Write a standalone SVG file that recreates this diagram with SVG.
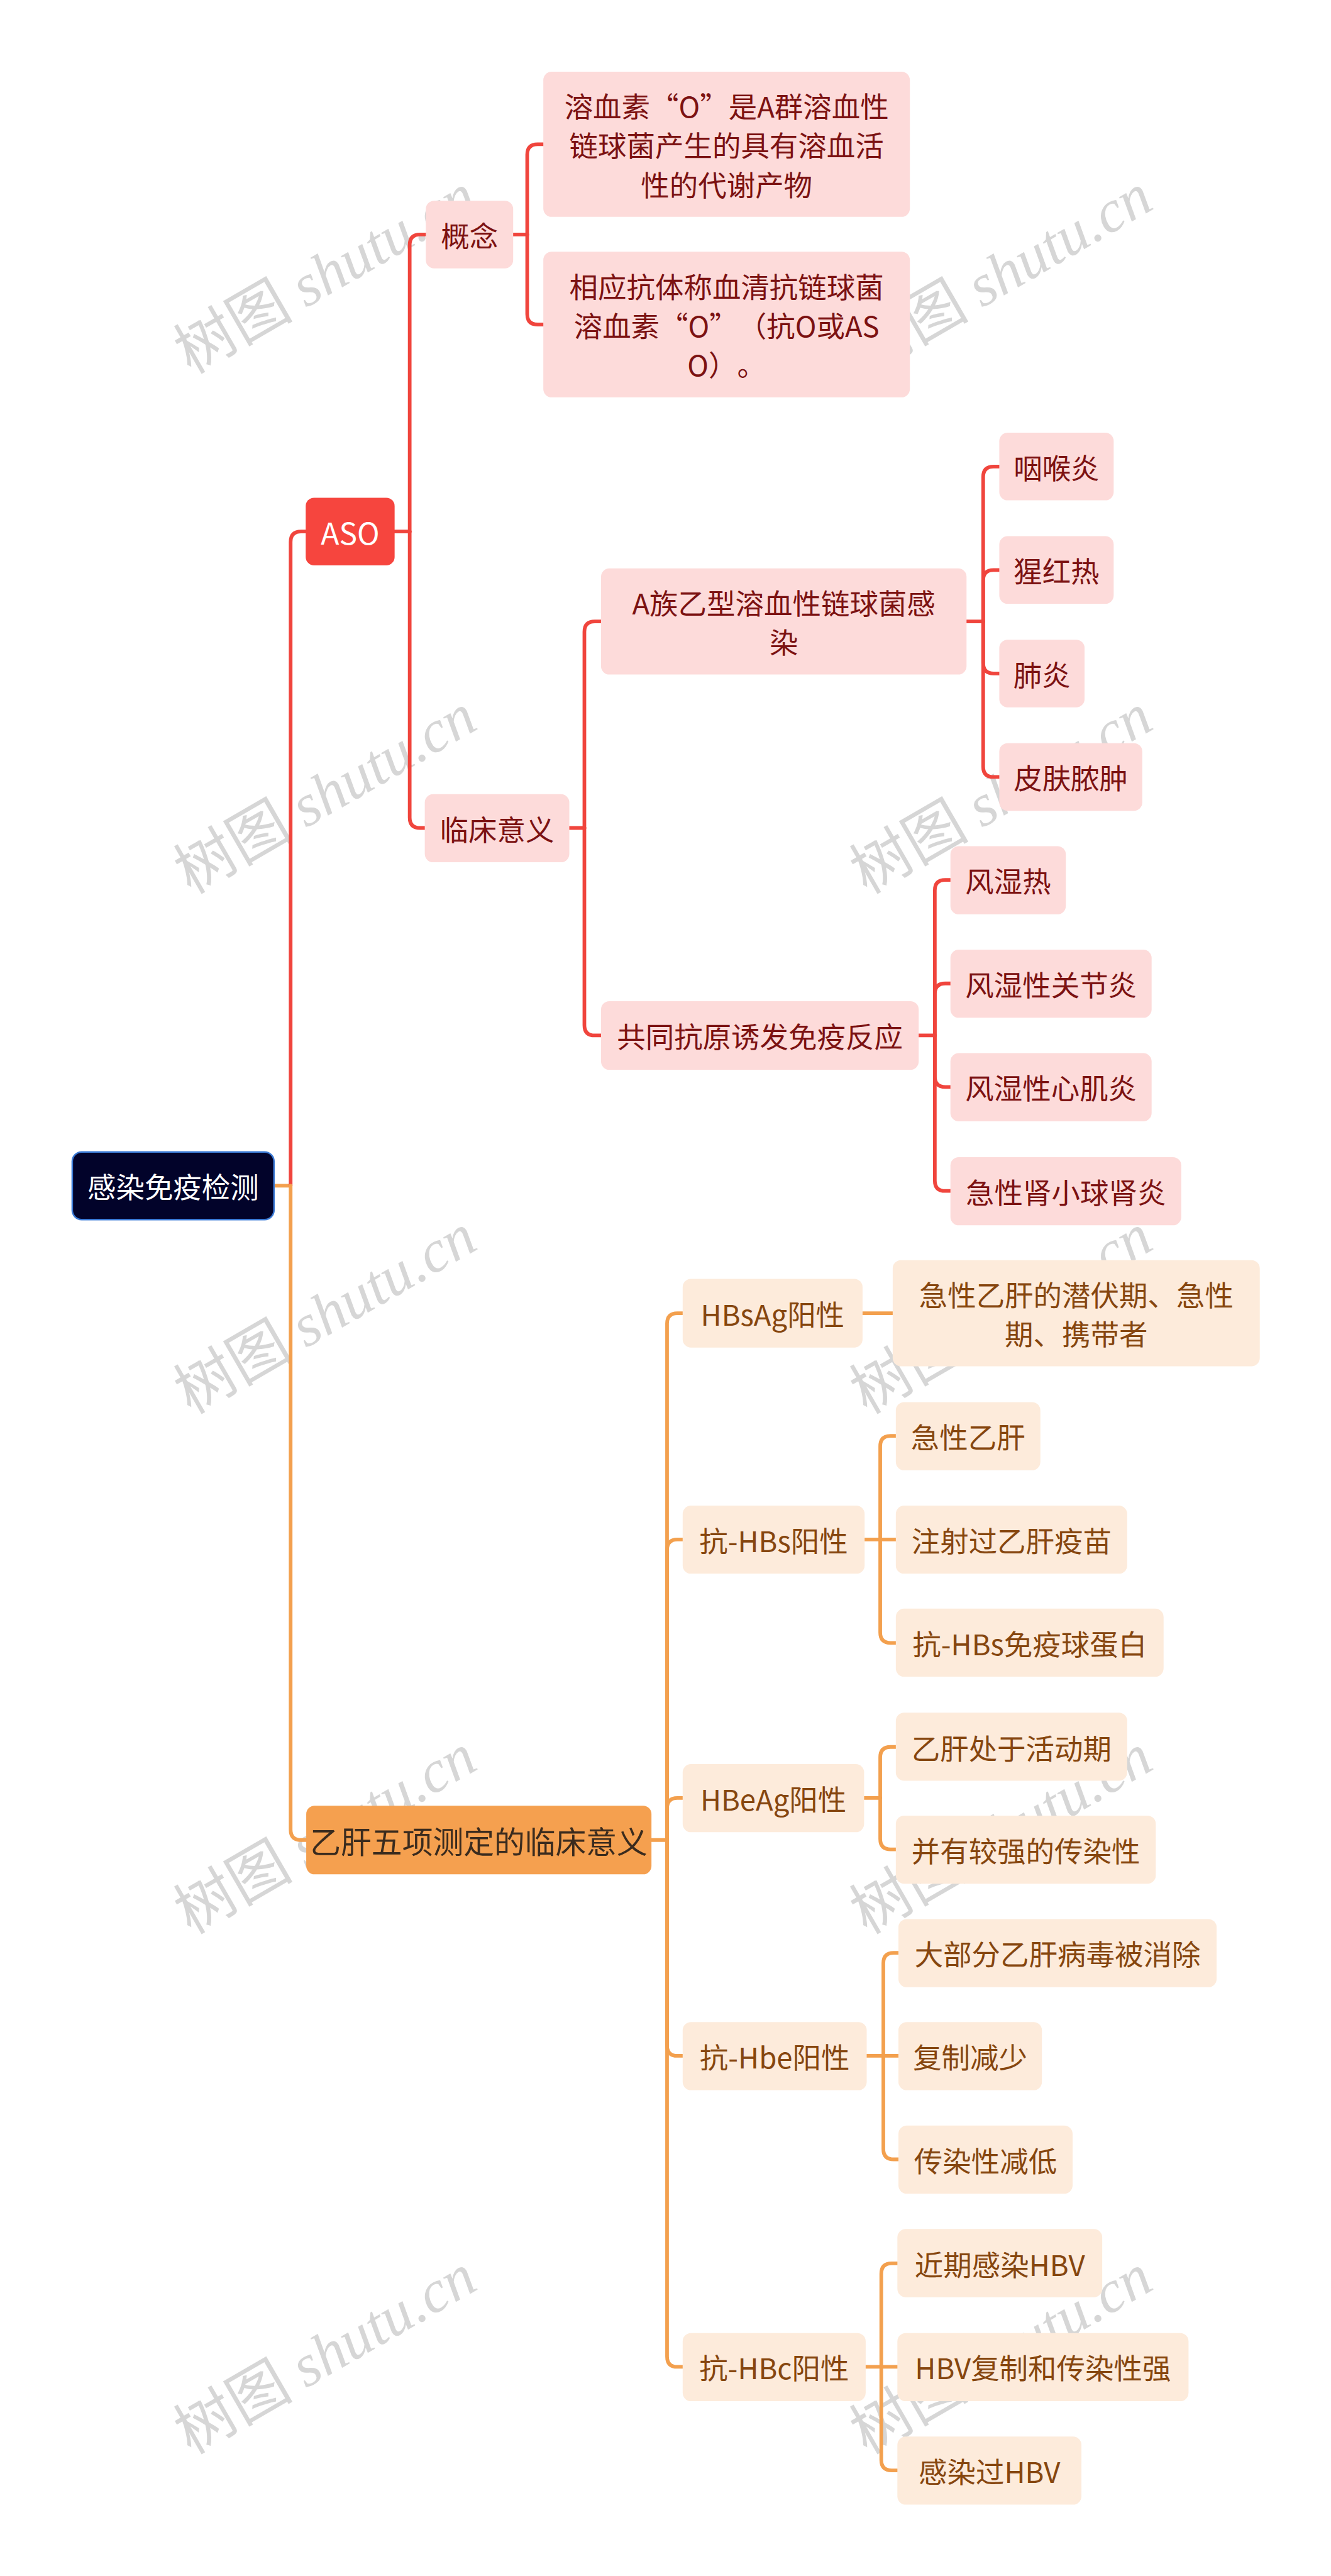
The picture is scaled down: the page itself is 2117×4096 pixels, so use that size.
<svg xmlns="http://www.w3.org/2000/svg" width="2117" height="4096" viewBox="0 0 2117 4096">
<style>
text{font-family:"Noto Sans CJK SC","Noto Sans",sans-serif;font-size:55px;text-anchor:middle;dominant-baseline:central;text-spacing-trim:space-all}
.r1{fill:#f6453e}.r2{fill:#fddbda}.tr{fill:#7c1212}
.o1{fill:#f5a04f}.o2{fill:#fdebdb}.to{fill:#86460f}
.cr{stroke:#f0453d;stroke-width:7;fill:none;stroke-linecap:round}
.co{stroke:#f3a04e;stroke-width:7;fill:none;stroke-linecap:round}
.wm{fill:#d6d6d6;font-size:115px;dominant-baseline:alphabetic}
.wm .l{font-family:"Liberation Serif",serif;font-style:italic}
</style>
<rect width="2117" height="4096" fill="#ffffff"/>
<g transform="scale(0.826953)">
<g id="watermarks">
<text class="wm" transform="translate(645,560) rotate(-30)">树图 <tspan class="l">shutu.cn</tspan></text>
<text class="wm" transform="translate(1945,560) rotate(-30)">树图 <tspan class="l">shutu.cn</tspan></text>
<text class="wm" transform="translate(645,1560) rotate(-30)">树图 <tspan class="l">shutu.cn</tspan></text>
<text class="wm" transform="translate(1945,1560) rotate(-30)">树图 <tspan class="l">shutu.cn</tspan></text>
<text class="wm" transform="translate(645,2560) rotate(-30)">树图 <tspan class="l">shutu.cn</tspan></text>
<text class="wm" transform="translate(1945,2560) rotate(-30)">树图 <tspan class="l">shutu.cn</tspan></text>
<text class="wm" transform="translate(645,3560) rotate(-30)">树图 <tspan class="l">shutu.cn</tspan></text>
<text class="wm" transform="translate(1945,3560) rotate(-30)">树图 <tspan class="l">shutu.cn</tspan></text>
<text class="wm" transform="translate(645,4560) rotate(-30)">树图 <tspan class="l">shutu.cn</tspan></text>
<text class="wm" transform="translate(1945,4560) rotate(-30)">树图 <tspan class="l">shutu.cn</tspan></text>
</g>
<g id="connectors">
<path class="co" d="M527,2280 H559"/>
<path class="cr" d="M559,2280 V1042 Q559,1022 579,1022 H588"/>
<path class="co" d="M559,2280 V3518 Q559,3538 579,3538 H589"/>
<path class="cr" d="M759,1022 H788"/>
<path class="cr" d="M788,1022 V471 Q788,451 808,451 H819"/>
<path class="cr" d="M788,1022 V1572 Q788,1592 808,1592 H817"/>
<path class="cr" d="M987,451 H1014"/>
<path class="cr" d="M1014,451 V297.5 Q1014,277.5 1034,277.5 H1045"/>
<path class="cr" d="M1014,451 V604 Q1014,624 1034,624 H1045"/>
<path class="cr" d="M1095,1592 H1124"/>
<path class="cr" d="M1124,1592 V1215 Q1124,1195 1144,1195 H1156"/>
<path class="cr" d="M1124,1592 V1971 Q1124,1991 1144,1991 H1156"/>
<path class="cr" d="M1859,1195 H1891"/>
<path class="cr" d="M1891,1195 V917 Q1891,897 1911,897 H1922"/>
<path class="cr" d="M1891,1195 V1116 Q1891,1096 1911,1096 H1922"/>
<path class="cr" d="M1891,1195 V1275 Q1891,1295 1911,1295 H1922"/>
<path class="cr" d="M1891,1195 V1474 Q1891,1494 1911,1494 H1922"/>
<path class="cr" d="M1767,1991 H1798"/>
<path class="cr" d="M1798,1991 V1712 Q1798,1692 1818,1692 H1828"/>
<path class="cr" d="M1798,1991 V1911 Q1798,1891 1818,1891 H1828"/>
<path class="cr" d="M1798,1991 V2070 Q1798,2090 1818,2090 H1828"/>
<path class="cr" d="M1798,1991 V2270 Q1798,2290 1818,2290 H1828"/>
<path class="co" d="M1253,3538 H1283"/>
<path class="co" d="M1283,3538 V2545 Q1283,2525 1303,2525 H1313"/>
<path class="co" d="M1283,3538 V2980 Q1283,2960 1303,2960 H1313"/>
<path class="co" d="M1283,3538 V3477 Q1283,3457 1303,3457 H1313"/>
<path class="co" d="M1283,3538 V3933 Q1283,3953 1303,3953 H1313"/>
<path class="co" d="M1283,3538 V4531 Q1283,4551 1303,4551 H1313"/>
<path class="co" d="M1659,2525 H1717"/>
<path class="co" d="M1663,2960 H1723"/>
<path class="co" d="M1693,2960 V2781 Q1693,2761 1713,2761 H1723"/>
<path class="co" d="M1693,2960 V3139 Q1693,3159 1713,3159 H1723"/>
<path class="co" d="M1662,3457 H1693"/>
<path class="co" d="M1693,3457 V3379 Q1693,3359 1713,3359 H1723"/>
<path class="co" d="M1693,3457 V3536 Q1693,3556 1713,3556 H1723"/>
<path class="co" d="M1667,3953 H1728"/>
<path class="co" d="M1699,3953 V3775 Q1699,3755 1719,3755 H1728"/>
<path class="co" d="M1699,3953 V4132 Q1699,4152 1719,4152 H1728"/>
<path class="co" d="M1665,4551 H1726"/>
<path class="co" d="M1695,4551 V4372 Q1695,4352 1715,4352 H1726"/>
<path class="co" d="M1695,4551 V4730 Q1695,4750 1715,4750 H1726"/>
</g>
<g id="root"><rect x="139" y="2215" width="388" height="130" rx="18" fill="#02032a" stroke="#3b7ad5" stroke-width="3"/><text x="333" y="2280" fill="#ffffff">感染免疫检测</text></g>
<g id="aso"><rect class="r1" x="588" y="957" width="171" height="130" rx="16"/><text x="673.5" y="1022" fill="#ffffff" style="font-size:58px">ASO</text></g>
<g id="gainian"><rect class="r2" x="819" y="386" width="168" height="130" rx="16"/><text class="tr" x="903" y="451">概念</text></g>
<g id="rongxuesu"><rect class="r2" x="1045" y="138" width="705" height="279" rx="16"/><text class="tr" x="1397.5" y="202.5">溶血素“O”是A群溶血性</text><text class="tr" x="1397.5" y="277.5">链球菌产生的具有溶血活</text><text class="tr" x="1397.5" y="352.5">性的代谢产物</text></g>
<g id="xiangying"><rect class="r2" x="1045" y="484" width="705" height="280" rx="16"/><text class="tr" x="1397.5" y="549">相应抗体称血清抗链球菌</text><text class="tr" x="1397.5" y="624">溶血素“O”（抗O或AS</text><text class="tr" x="1397.5" y="699">O）。</text></g>
<g id="linchuang"><rect class="r2" x="817" y="1527" width="278" height="131" rx="16"/><text class="tr" x="956" y="1592">临床意义</text></g>
<g id="azu"><rect class="r2" x="1156" y="1093" width="703" height="204" rx="16"/><text class="tr" x="1507.5" y="1157.5">A族乙型溶血性链球菌感</text><text class="tr" x="1507.5" y="1232.5">染</text></g>
<g id="yanhou"><rect class="r2" x="1922" y="832" width="220" height="130" rx="16"/><text class="tr" x="2032" y="897">咽喉炎</text></g>
<g id="xinghong"><rect class="r2" x="1922" y="1031" width="220" height="130" rx="16"/><text class="tr" x="2032" y="1096">猩红热</text></g>
<g id="feiyan"><rect class="r2" x="1922" y="1230" width="164" height="130" rx="16"/><text class="tr" x="2004" y="1295">肺炎</text></g>
<g id="pifu"><rect class="r2" x="1922" y="1429" width="275" height="130" rx="16"/><text class="tr" x="2059.5" y="1494">皮肤脓肿</text></g>
<g id="gongtong"><rect class="r2" x="1156" y="1925" width="611" height="132" rx="16"/><text class="tr" x="1461.5" y="1991">共同抗原诱发免疫反应</text></g>
<g id="fengshire"><rect class="r2" x="1828" y="1627" width="222" height="131" rx="16"/><text class="tr" x="1939" y="1692">风湿热</text></g>
<g id="guanjie"><rect class="r2" x="1828" y="1826" width="387" height="131" rx="16"/><text class="tr" x="2021.5" y="1891">风湿性关节炎</text></g>
<g id="xinji"><rect class="r2" x="1828" y="2025" width="387" height="131" rx="16"/><text class="tr" x="2021.5" y="2090">风湿性心肌炎</text></g>
<g id="shenyan"><rect class="r2" x="1828" y="2225" width="444" height="131" rx="16"/><text class="tr" x="2050" y="2290">急性肾小球肾炎</text></g>
<g id="yigan"><rect class="o1" x="589" y="3472" width="664" height="132" rx="16"/><text x="921" y="3538" fill="#3a2b1e" style="font-size:59px">乙肝五项测定的临床意义</text></g>
<g id="hbsag"><rect class="o2" x="1313" y="2459" width="346" height="132" rx="16"/><text class="to" x="1486" y="2525">HBsAg阳性</text></g>
<g id="qianfu"><rect class="o2" x="1717" y="2423" width="706" height="204" rx="16"/><text class="to" x="2070" y="2487.5">急性乙肝的潜伏期、急性</text><text class="to" x="2070" y="2562.5">期、携带者</text></g>
<g id="kanghbs"><rect class="o2" x="1313" y="2895" width="350" height="131" rx="16"/><text class="to" x="1488" y="2960">抗-HBs阳性</text></g>
<g id="jixing"><rect class="o2" x="1723" y="2696" width="278" height="131" rx="16"/><text class="to" x="1862" y="2761">急性乙肝</text></g>
<g id="zhushe"><rect class="o2" x="1723" y="2895" width="445" height="131" rx="16"/><text class="to" x="1945.5" y="2960">注射过乙肝疫苗</text></g>
<g id="qiudanbai"><rect class="o2" x="1723" y="3093" width="515" height="131" rx="16"/><text class="to" x="1980.5" y="3159">抗-HBs免疫球蛋白</text></g>
<g id="hbeag"><rect class="o2" x="1313" y="3392" width="349" height="131" rx="16"/><text class="to" x="1487.5" y="3457">HBeAg阳性</text></g>
<g id="huodong"><rect class="o2" x="1723" y="3293" width="445" height="131" rx="16"/><text class="to" x="1945.5" y="3359">乙肝处于活动期</text></g>
<g id="chuanran"><rect class="o2" x="1723" y="3491" width="500" height="131" rx="16"/><text class="to" x="1973" y="3556">并有较强的传染性</text></g>
<g id="kanghbe"><rect class="o2" x="1313" y="3888" width="354" height="131" rx="16"/><text class="to" x="1490" y="3953">抗-Hbe阳性</text></g>
<g id="xiaochu"><rect class="o2" x="1728" y="3690" width="612" height="131" rx="16"/><text class="to" x="2034" y="3755">大部分乙肝病毒被消除</text></g>
<g id="fuzhi"><rect class="o2" x="1728" y="3888" width="276" height="131" rx="16"/><text class="to" x="1866" y="3953">复制减少</text></g>
<g id="jiandi"><rect class="o2" x="1728" y="4087" width="335" height="131" rx="16"/><text class="to" x="1895.5" y="4152">传染性减低</text></g>
<g id="kanghbc"><rect class="o2" x="1313" y="4486" width="352" height="131" rx="16"/><text class="to" x="1489" y="4551">抗-HBc阳性</text></g>
<g id="jinqi"><rect class="o2" x="1726" y="4286" width="394" height="131" rx="16"/><text class="to" x="1923" y="4352">近期感染HBV</text></g>
<g id="hbvfuzhi"><rect class="o2" x="1726" y="4486" width="560" height="131" rx="16"/><text class="to" x="2006" y="4551">HBV复制和传染性强</text></g>
<g id="ganranguo"><rect class="o2" x="1726" y="4685" width="354" height="131" rx="16"/><text class="to" x="1903" y="4750">感染过HBV</text></g>
</g>
</svg>
